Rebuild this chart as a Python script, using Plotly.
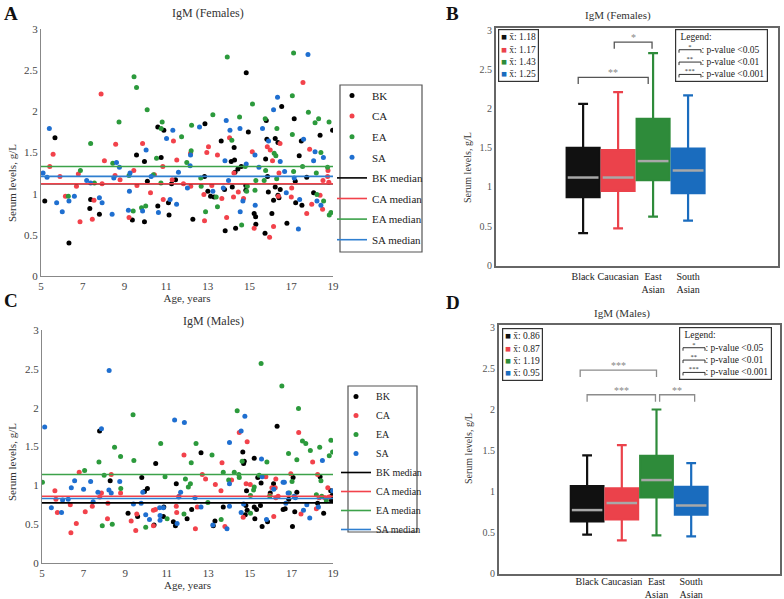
import plotly.graph_objects as go

W, H = 784, 599
FONT = "Liberation Serif"

groups = ["BK", "CA", "EA", "SA"]
categories = ["Black", "Caucasian", "East<br>Asian", "South<br>Asian"]
age_ticks = [5, 7, 9, 11, 13, 15, 17, 19]
age_range = [5, 19]

# ---------------- Females (panel A) : (age, IgM g/L) ----------------
fem_BK = [(5.18,0.91),(5.67,1.68),(6.34,0.40),(7.34,0.82),(7.38,0.93),(7.80,0.75),(9.38,0.68),(9.58,1.47),(9.96,1.39),(9.96,0.66),(10.10,1.15),(10.60,1.81),(10.60,0.85),(10.76,1.44),(10.89,1.77),(11.11,0.89),(11.14,0.74),(11.26,1.12),(11.45,1.17),(12.28,0.69),(12.84,1.21),(12.86,1.85),(13.00,1.03),(13.13,0.97),(13.30,0.96),(13.64,1.64),(13.80,1.05),(13.83,0.55),(14.12,1.39),(14.17,1.08),(14.26,1.56),(14.28,1.41),(14.30,1.26),(14.33,0.58),(14.44,1.30),(14.60,1.33),(14.82,1.10),(14.82,1.04),(14.84,2.47),(14.94,1.75),(15.22,0.76),(15.29,0.72),(15.30,0.63),(15.74,0.52),(15.77,1.42),(15.80,1.89),(15.83,1.66),(15.86,1.21),(15.90,1.02),(16.07,0.76),(16.15,0.92),(16.23,1.67),(16.23,1.08),(16.36,1.62),(16.36,0.98),(16.41,0.95),(16.47,1.05),(16.54,2.06),(16.79,0.64),(17.14,1.91),(17.19,1.15),(17.21,0.89),(17.38,1.46),(17.48,1.64),(17.51,0.86),(17.74,1.20),(18.07,1.01),(18.38,1.71),(18.98,1.77)]
fem_CA = [(5.42,1.33),(5.58,1.48),(5.91,1.21),(6.17,0.97),(6.70,1.09),(6.79,1.24),(6.87,0.66),(7.46,0.69),(7.54,0.92),(7.88,2.21),(7.93,1.12),(8.04,1.40),(8.55,1.22),(8.58,1.60),(8.79,1.17),(9.22,0.71),(9.45,1.28),(9.60,1.10),(9.87,1.61),(10.25,1.01),(10.44,1.23),(10.84,1.33),(10.86,0.93),(11.29,1.17),(11.35,1.64),(11.51,1.41),(11.83,1.12),(12.17,1.49),(12.18,1.09),(12.81,0.99),(12.84,0.67),(12.95,1.50),(13.03,1.57),(13.19,1.10),(13.46,1.47),(13.67,0.94),(13.90,0.71),(14.04,1.68),(14.23,0.96),(14.25,1.25),(14.46,1.02),(14.71,0.94),(15.13,1.51),(15.22,0.58),(15.85,1.57),(15.96,0.47),(15.99,1.53),(16.10,1.40),(16.15,0.60),(16.38,0.97),(16.41,1.25),(16.46,1.61),(17.00,0.96),(17.02,1.07),(17.56,2.35),(17.74,0.76),(17.88,1.54),(17.98,0.87),(18.38,0.98),(18.50,0.81),(18.52,1.16),(18.74,1.21),(18.76,1.28),(18.80,1.14)]
fem_EA = [(6.31,0.97),(6.89,1.28),(7.38,1.61),(7.56,1.13),(8.44,1.37),(8.74,1.87),(9.22,1.22),(9.42,0.79),(9.46,2.42),(9.58,2.29),(9.82,0.83),(10.02,0.85),(10.09,2.02),(10.39,1.23),(10.54,1.43),(10.75,1.13),(10.76,1.79),(10.81,1.87),(11.74,1.69),(11.99,1.38),(12.20,1.52),(12.22,1.83),(12.66,1.19),(12.68,1.09),(12.89,0.78),(13.24,1.96),(13.40,0.96),(13.46,0.84),(13.93,2.66),(14.15,1.65),(14.52,1.93),(14.62,0.62),(14.79,1.33),(14.86,1.03),(14.89,1.09),(15.14,2.09),(15.26,1.04),(15.30,1.16),(15.70,1.16),(15.75,1.91),(15.77,1.28),(16.18,1.49),(16.26,1.46),(16.30,1.18),(16.31,1.79),(17.05,2.19),(17.05,1.72),(17.11,2.71),(17.11,1.27),(17.54,1.33),(17.82,1.99),(18.14,1.86),(18.20,1.25),(18.23,0.99),(18.31,1.91),(18.42,1.50),(18.55,0.91),(18.74,1.32),(18.81,1.87),(18.82,0.74),(18.90,0.77)]
fem_SA = [(5.10,1.25),(5.29,1.20),(5.40,1.79),(5.75,0.89),(6.02,0.78),(6.34,0.91),(6.60,0.97),(7.19,1.16),(7.38,1.13),(7.80,0.95),(7.93,0.89),(8.41,0.75),(8.49,1.19),(8.62,1.38),(8.76,1.32),(9.19,0.80),(9.24,1.03),(9.27,1.25),(9.87,0.79),(10.04,1.53),(10.28,1.21),(10.63,0.77),(11.02,1.67),(11.19,0.93),(11.32,1.77),(11.50,0.87),(11.59,1.26),(12.02,1.07),(12.15,1.34),(12.17,1.47),(12.60,1.81),(13.24,1.03),(13.74,1.07),(13.82,1.40),(13.88,1.89),(13.99,1.16),(14.06,1.77),(14.54,1.79),(14.55,0.78),(14.68,0.91),(14.84,1.36),(15.26,1.47),(15.27,0.86),(15.45,1.32),(15.62,1.79),(15.91,1.64),(16.15,2.02),(16.34,2.17),(16.47,1.39),(16.68,1.27),(16.76,1.01),(17.14,1.19),(17.34,0.57),(17.40,0.93),(17.59,1.66),(17.80,2.69),(18.07,1.40),(18.14,1.51),(18.23,0.91),(18.42,0.86),(18.54,1.44)]

# ---------------- Males (panel C) ----------------
male_BK = [(7.77,1.70),(8.28,1.06),(9.14,0.64),(9.60,0.60),(9.80,1.10),(9.93,0.92),(10.07,0.96),(10.39,0.49),(10.47,1.28),(10.84,0.60),(10.86,0.72),(11.32,0.53),(11.42,0.48),(11.46,1.02),(11.98,0.57),(12.20,0.69),(12.65,1.42),(13.24,0.48),(13.32,0.54),(13.72,0.72),(14.66,1.43),(14.70,1.28),(14.73,1.31),(14.78,0.62),(14.81,0.74),(14.84,0.93),(14.87,0.68),(15.21,1.35),(15.21,0.72),(15.24,0.57),(15.32,0.69),(15.38,1.10),(15.51,0.74),(15.54,1.03),(15.59,0.47),(15.85,0.53),(15.98,0.90),(16.14,1.02),(16.31,1.76),(16.60,0.69),(16.70,0.70),(16.87,0.82),(17.05,0.47),(17.08,1.10),(17.16,0.66),(17.26,0.91),(18.26,0.77),(18.38,1.11),(18.55,0.64),(18.89,0.93),(18.92,0.81),(18.95,0.87)]
male_CA = [(5.62,0.93),(5.67,0.82),(5.74,0.65),(6.36,0.75),(6.39,0.39),(6.65,0.51),(6.79,1.17),(7.08,0.66),(7.42,0.73),(7.78,0.85),(7.86,0.90),(8.15,0.57),(8.17,0.77),(8.33,1.14),(8.78,0.90),(9.29,0.54),(9.51,0.42),(9.56,0.63),(10.36,0.68),(10.36,0.48),(10.46,0.69),(11.46,0.73),(11.48,0.65),(11.59,0.86),(11.83,1.39),(12.38,0.44),(12.47,0.72),(12.71,1.14),(12.87,1.08),(13.34,1.01),(13.61,0.93),(13.66,1.29),(13.80,0.47),(14.12,1.07),(14.49,1.68),(14.68,0.59),(14.82,1.02),(14.87,1.56),(15.02,1.01),(15.77,1.11),(15.96,0.87),(16.06,0.97),(16.15,0.60),(16.22,0.97),(16.25,1.08),(16.25,0.84),(16.36,0.86),(16.97,1.15),(17.35,1.68),(17.46,0.63),(18.02,1.30),(18.20,0.70),(18.26,1.14),(18.34,0.84),(18.60,0.84),(18.75,0.97),(18.81,0.85)]
male_EA = [(5.02,1.04),(7.05,1.19),(7.74,1.30),(7.90,0.48),(7.99,1.13),(8.38,0.50),(8.49,1.49),(8.78,1.37),(8.79,0.96),(9.38,1.91),(9.42,1.32),(9.99,0.46),(10.71,1.54),(10.92,1.11),(11.02,0.57),(11.83,0.63),(11.90,1.08),(12.04,0.98),(12.14,1.02),(12.18,1.29),(12.41,1.54),(12.98,0.78),(13.18,1.39),(13.62,0.56),(13.72,1.17),(13.98,1.07),(14.25,1.17),(14.39,1.96),(14.47,1.14),(14.49,1.10),(14.63,1.31),(15.03,0.87),(15.03,0.64),(15.18,0.94),(15.21,0.98),(15.45,1.13),(15.54,2.57),(15.82,1.30),(15.96,0.86),(16.54,2.28),(16.86,1.41),(16.90,0.90),(17.03,1.05),(17.26,1.33),(17.34,1.99),(17.53,1.57),(17.69,1.54),(17.91,1.45),(18.20,0.88),(18.36,1.49),(18.42,1.06),(18.46,0.86),(18.68,0.80),(18.82,1.38),(18.90,1.58),(18.98,1.43)]
male_SA = [(5.13,1.75),(5.45,0.71),(5.94,0.65),(5.99,0.81),(6.26,0.82),(6.41,0.97),(6.57,1.06),(7.00,0.95),(7.34,1.05),(7.46,0.79),(7.69,0.91),(7.86,1.73),(8.22,0.94),(8.23,2.48),(8.33,0.90),(8.74,1.05),(9.40,0.76),(9.77,0.77),(9.85,0.91),(9.99,0.62),(10.17,0.56),(10.66,0.71),(10.68,0.61),(10.68,0.55),(10.84,0.71),(11.38,1.84),(11.50,0.51),(11.58,0.85),(11.67,0.91),(11.85,1.81),(12.36,0.84),(12.65,0.72),(13.22,0.49),(13.90,0.44),(14.02,1.55),(14.02,1.02),(14.02,0.73),(14.58,1.70),(14.58,0.65),(14.70,0.76),(14.76,1.89),(15.56,1.34),(15.59,1.11),(15.80,0.56),(16.15,0.95),(16.60,1.04),(16.66,1.04),(16.73,0.77),(16.84,0.90),(17.13,0.86),(17.19,0.84),(17.58,0.68),(17.74,0.75),(17.88,0.58),(18.30,0.72),(18.49,1.32),(18.98,0.93)]

# ---------------- Box-plot statistics ----------------
fem_lo = [0.41, 0.47, 0.62, 0.57]
fem_q1 = [0.87, 0.95, 1.085, 0.92]
fem_med = [1.12, 1.12, 1.33, 1.21]
fem_q3 = [1.50, 1.47, 1.87, 1.49]
fem_hi = [2.06, 2.21, 2.71, 2.17]
fem_mean = [1.18, 1.17, 1.43, 1.25]

male_lo = [0.474, 0.405, 0.466, 0.454]
male_q1 = [0.636, 0.66, 0.93, 0.717]
male_med = [0.774, 0.86, 1.14, 0.83]
male_q3 = [1.066, 1.04, 1.435, 1.058]
male_hi = [1.44, 1.565, 2.0, 1.346]
male_mean = [0.86, 0.87, 1.19, 0.95]

# significance comparisons: (x start, x end in category units, bracket level, label)
fem_sig = [(-0.14, 1.86, 2.40, "**"), (0.89, 1.97, 2.85, "*")]
male_sig = [(-0.2, 2.0, 2.48, "***"), (0.0, 1.97, 2.18, "***"), (2.09, 3.1, 2.18, "**")]
sig_stars = ["*", "**", "***"]
sig_text = [": p-value <0.05", ": p-value <0.01", ": p-value <0.001"]

pt_colors = ["#000000", "#f2424b", "#2c9a3c", "#1f6fd0"]
med_colors = ["#000000", "#f2424b", "#3ca24a", "#2f7fd0"]
box_colors = ["#111111", "#eb424b", "#2e8b3a", "#1a6cbe"]


def px(x):
    return x / W


def py(y):
    return 1 - y / H


fig = go.Figure()

# ---------- scatter panels ----------
def add_scatter_panel(datasets, meds, xa, ya, leg):
    for g, d, c in zip(groups, datasets, pt_colors):
        fig.add_trace(go.Scatter(
            x=[a for a, _ in d], y=[v for _, v in d], mode="markers", name=g,
            marker=dict(color=c, size=5), xaxis=xa, yaxis=ya, legend=leg,
            legendgroup=leg + g, hoverinfo="x+y"))
    for g, m, c in zip(groups, meds, med_colors):
        fig.add_trace(go.Scatter(
            x=age_range, y=[m, m], mode="lines", name=g + " median",
            line=dict(color=c, width=1.6), xaxis=xa, yaxis=ya, legend=leg,
            legendgroup=leg + g + "m", hoverinfo="y"))

add_scatter_panel([fem_BK, fem_CA, fem_EA, fem_SA], fem_med, "x", "y", "legend")
add_scatter_panel([male_BK, male_CA, male_EA, male_SA], male_med, "x3", "y3", "legend2")

# ---------- box panels ----------
def add_box_panel(lo, q1, med, q3, hi, sig, xa, ya, sigcolor):
    for i in range(4):
        fig.add_trace(go.Box(
            x=[i], q1=[q1[i]], median=[med[i]], q3=[q3[i]],
            lowerfence=[lo[i]], upperfence=[hi[i]],
            fillcolor=box_colors[i], line=dict(color=box_colors[i], width=2.2),
            width=0.94, whiskerwidth=0.3, boxpoints=False,
            xaxis=xa, yaxis=ya, showlegend=False, name=categories[i].replace("<br>", " ")))
    for i in range(4):
        fig.add_trace(go.Scatter(
            x=[i - 0.44, i + 0.44], y=[med[i], med[i]], mode="lines",
            line=dict(color="#a8a8a8", width=2.5), xaxis=xa, yaxis=ya,
            showlegend=False, hoverinfo="y"))
    for x0, x1, lvl, lab in sig:
        fig.add_trace(go.Scatter(
            x=[x0, x0, x1, x1], y=[lvl - 0.085, lvl, lvl, lvl - 0.085], mode="lines",
            line=dict(color=sigcolor, width=1.3), xaxis=xa, yaxis=ya,
            showlegend=False, hoverinfo="skip"))
        fig.add_annotation(x=(x0 + x1) / 2, y=lvl, xref=xa, yref=ya, text=lab,
                           showarrow=False, yanchor="bottom", yshift=-3,
                           font=dict(family=FONT, size=10, color="#888"))

add_box_panel(fem_lo, fem_q1, fem_med, fem_q3, fem_hi, fem_sig, "x2", "y2", "#555")
add_box_panel(male_lo, male_q1, male_med, male_q3, male_hi, male_sig, "x4", "y4", "#8c8c8c")

# ---------- axes ----------
tickfont = dict(family=FONT, size=11, color="#444")
scat_x = dict(range=age_range, tickvals=age_ticks, showline=True, linecolor="#888",
              linewidth=1.2, showgrid=False, zeroline=False, ticks="", tickfont=tickfont,
              automargin=False,
              title=dict(text="Age, years", font=dict(family=FONT, size=11, color="#333"), standoff=0))
scat_y = dict(range=[0, 3], dtick=0.5, showline=True, linecolor="#888", linewidth=1.2,
              showgrid=False, zeroline=False, ticks="", tickfont=tickfont, automargin=False)
box_x = dict(range=[-2.49, 5.57], tickvals=[0, 1, 2, 3], ticktext=categories, tickangle=0,
             showline=True, mirror=True, linecolor="#666", linewidth=2, showgrid=False,
             zeroline=False, ticks="", automargin=False,
             tickfont=dict(family=FONT, size=10, color="#222"))
box_y = dict(range=[-0.01, 3.03], dtick=0.5, showline=True, mirror=True, linecolor="#666",
             linewidth=2, showgrid=False, zeroline=False, ticks="", automargin=False,
             tickfont=dict(family=FONT, size=10, color="#555"))

fig.update_layout(
    width=W, height=H, margin=dict(l=0, r=0, t=0, b=0, autoexpand=False),
    paper_bgcolor="white", plot_bgcolor="white",
    font=dict(family=FONT, color="#222"),
    xaxis=dict(scat_x, domain=[px(41), px(333)], anchor="y"),
    yaxis=dict(scat_y, domain=[py(276), py(29)], anchor="x"),
    xaxis3=dict(scat_x, domain=[px(42), px(333)], anchor="y3"),
    yaxis3=dict(scat_y, domain=[py(563), py(330)], anchor="x3"),
    xaxis2=dict(box_x, domain=[px(496), px(778)], anchor="y2"),
    yaxis2=dict(box_y, domain=[py(266), py(28)], anchor="x2"),
    xaxis4=dict(box_x, range=[-2.54, 5.56], domain=[px(499), px(780)], anchor="y4",
                ticklabelstandoff=-3),
    yaxis4=dict(box_y, range=[-0.005, 3.03], domain=[py(574), py(325)], anchor="x4"),
    legend=dict(x=px(332), y=py(81), xanchor="left", yanchor="top", borderwidth=0,
                bgcolor="rgba(0,0,0,0)", itemwidth=30, tracegroupgap=1.6,
                font=dict(family=FONT, size=11, color="#222")),
    legend2=dict(x=px(336), y=py(382), xanchor="left", yanchor="top", borderwidth=0,
                 bgcolor="rgba(0,0,0,0)", itemwidth=30, tracegroupgap=0,
                 font=dict(family=FONT, size=10, color="#222")),
    showlegend=True,
)

# legend frames (as in the reference)
for x0, y0, x1, y1 in [(340, 85, 422, 252), (348, 386, 417, 532)]:
    fig.add_shape(type="rect", xref="paper", yref="paper", x0=px(x0), x1=px(x1),
                  y0=py(y1), y1=py(y0), line=dict(color="#555", width=1.2), layer="below")

# ---------- titles, panel letters, y titles ----------
def ann(x, y, text, size=12, color="#333", bold=False, angle=0, xanchor="center"):
    fig.add_annotation(x=px(x), y=py(y), xref="paper", yref="paper", text=f"<b>{text}</b>" if bold else text,
                       showarrow=False, xanchor=xanchor, yanchor="middle", textangle=angle,
                       font=dict(family=FONT, size=size, color=color))

ann(208, 13, "IgM (Females)", 12)
ann(213, 321, "IgM (Males)", 12)
ann(618, 15, "IgM (Females)", 11)
ann(622, 313, "IgM (Males)", 11)
ann(11, 13, "A", 19, "#111", True)
ann(11, 300, "C", 19, "#111", True)
ann(453, 13, "B", 19, "#111", True)
ann(453, 302, "D", 19, "#111", True)
ann(12, 183, "Serum levels, g/L", 11, "#333", angle=-90)
ann(12, 462, "Serum levels, g/L", 11, "#333", angle=-90)
ann(467, 168, "Serum levels, g/L", 10, "#333", angle=-90)
ann(468, 449, "Serum levels, g/L", 10, "#333", angle=-90)

# ---------- mean boxes and significance legends ----------
FS = 9.5
LH = FS * 1.3
NB = "\u00a0"
pads = {"*": 6, "**": 5, "***": 4}

def mean_box(x0, y0, means):
    lines = [f'<span style="color:{c}">\u25a0</span> x\u0304: {m:.2f}' for m, c in zip(means, box_colors)]
    fig.add_annotation(x=px(x0), y=py(y0), xref="paper", yref="paper", text="<br>".join(lines),
                       showarrow=False, xanchor="left", yanchor="top", align="left",
                       bordercolor="#333", borderwidth=1.2, borderpad=2, bgcolor="white",
                       font=dict(family=FONT, size=FS, color="#222"))

def sig_box(x0, y0):
    lines = [NB + "Legend:"]
    for s, t in zip(sig_stars, sig_text):
        lines.append(f"<sup>{NB * pads[s]}{s}{NB * pads[s]}</sup>{t}")
    fig.add_annotation(x=px(x0), y=py(y0), xref="paper", yref="paper", text="<br>".join(lines),
                       showarrow=False, xanchor="left", yanchor="top", align="left",
                       bordercolor="#333", borderwidth=1.2, borderpad=2,
                       bgcolor="rgba(0,0,0,0)",
                       font=dict(family=FONT, size=FS, color="#222"))
    bx0 = x0 + 4
    bx1 = bx0 + 22
    for k in range(1, 4):
        c = y0 + 3.2 + LH * (k + 0.5)
        yy = c - 1
        fig.add_shape(type="path", xref="paper", yref="paper",
                      path=f"M {px(bx0)} {py(yy + 3)} L {px(bx0)} {py(yy)} L {px(bx1)} {py(yy)} L {px(bx1)} {py(yy + 3)}",
                      line=dict(color="#333", width=1))

mean_box(498, 29, fem_mean)
mean_box(502, 328, male_mean)
sig_box(675, 29)
sig_box(679, 327)

# remove the browser's default 8px body margin so the figure fills the window exactly
fig.write_html("out.html", config={"displayModeBar": False},
               post_script="document.body.style.margin='0';")
